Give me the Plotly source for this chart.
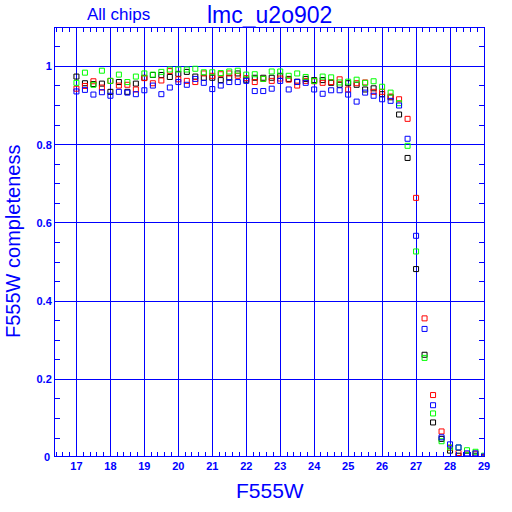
import plotly.graph_objects as go

mags = [17.00, 17.25, 17.50, 17.75, 18.00, 18.25, 18.50, 18.75, 19.00, 19.25,
        19.50, 19.75, 20.00, 20.25, 20.50, 20.75, 21.00, 21.25, 21.50, 21.75,
        22.00, 22.25, 22.50, 22.75, 23.00, 23.25, 23.50, 23.75, 24.00, 24.25,
        24.50, 24.75, 25.00, 25.25, 25.50, 25.75, 26.00, 26.25, 26.50, 26.75,
        27.00, 27.25, 27.50, 27.75, 28.00, 28.25, 28.50, 28.75, 29.00]

black = [.974, .957, .955, .956, .935, .960, .935, .956, .971, .978,
         .978, .973, .981, .986, .974, .971, .971, .965, .971, .982,
         .966, .971, .971, .971, .976, .968, .961, .968, .965, .965,
         .958, .953, .957, .953, .941, .944, .929, .921, .877, .766,
         .482, .263, .090, .048, .018, .005, .005, .005, .000]
red = [.943, .950, .962, .946, .963, .951, .953, .941, .970, .957,
       .964, .988, .967, .963, .960, .982, .976, .980, .982, .976,
       .970, .960, .968, .963, .969, .966, .951, .963, .962, .958,
       .960, .967, .941, .957, .959, .935, .935, .923, .916, .866,
       .664, .356, .160, .067, .025, .012, .008, .010, .002]
green = [.958, .984, .953, .989, .963, .979, .960, .974, .982, .979,
         .986, .992, .992, .992, .994, .985, .985, .983, .987, .989,
         .979, .980, .968, .987, .987, .976, .982, .973, .963, .974,
         .972, .959, .961, .966, .958, .962, .948, .933, .906, .797,
         .527, .255, .113, .042, .026, .026, .019, .015, .005]
blue = [.936, .940, .928, .934, .925, .935, .933, .929, .939, .951,
        .929, .946, .960, .953, .968, .958, .942, .951, .960, .960,
        .963, .937, .937, .943, .963, .941, .960, .958, .941, .930,
        .939, .939, .928, .910, .933, .925, .916, .912, .900, .815,
        .567, .329, .134, .052, .034, .026, .011, .011, .003]

series = [("black", black), ("red", red), ("#00ff00", green), ("blue", blue)]

x_ticks = [17, 18, 19, 20, 21, 22, 23, 24, 25, 26, 27, 28, 29]
y_ticks = [0.2, 0.4, 0.6, 0.8, 1]
y_ticklabels = ["0.2", "0.4", "0.6", "0.8", "1"]
y_zero_label = "0"

BLUE = "#0000ff"
W = H = 512
# plot area in screen pixels
L, T, R, B = 55, 28, 28, 56
pw, ph = W - L - R, H - T - B

# axis ranges chosen so grid lines fall on the reference's pixel rows/columns
x_hi = 29.0
x_scale = (484.0 - 110.4) / 11.0
x_lo = 18.0 - (110.4 - L) / x_scale
y_scale = 391.25
y_hi = 1.0 + (66.4 - T) / y_scale
y_lo = y_hi - ph / y_scale


def px(sx):
    return (sx - L) / pw


def py(sy):
    return (H - B - sy) / ph


fig = go.Figure()
for col, vals in series:
    fig.add_trace(go.Scatter(
        x=mags, y=vals, mode="markers",
        marker=dict(symbol="square-open", size=5, color=col, line=dict(width=1, color=col)),
        showlegend=False, hoverinfo="skip",
    ))

tickfont = dict(family="Liberation Sans", size=11, color=BLUE, weight="bold")
fig.update_layout(
    width=W, height=H,
    margin=dict(l=L, r=R, t=T, b=B, pad=0),
    paper_bgcolor="white", plot_bgcolor="white",
    xaxis=dict(range=[x_lo, x_hi], tickvals=x_ticks, ticktext=[str(v) for v in x_ticks],
               showgrid=True, gridcolor=BLUE, gridwidth=1, zeroline=False,
               showline=True, linecolor=BLUE, linewidth=1, mirror="allticks",
               ticks="inside", ticklen=10, tickcolor=BLUE, tickfont=tickfont,
               minor=dict(dtick=0.2, tick0=0, ticks="inside", ticklen=4, tickcolor=BLUE,
                          showgrid=False)),
    yaxis=dict(range=[y_lo, y_hi], tickvals=y_ticks, ticktext=y_ticklabels,
               showgrid=True, gridcolor=BLUE, gridwidth=1, zeroline=False,
               showline=True, linecolor=BLUE, linewidth=1, mirror="allticks",
               ticks="inside", ticklen=10, tickcolor=BLUE, tickfont=tickfont,
               minor=dict(dtick=0.05, tick0=0, ticks="inside", ticklen=5, tickcolor=BLUE,
                          showgrid=False)),
    annotations=[
        dict(text=y_zero_label, x=px(51), y=py(457), xref="paper", yref="paper", showarrow=False,
             xanchor="right", yanchor="middle", font=tickfont, borderpad=0),
        dict(text="lmc_u2o902", x=px(269), y=py(15), xref="paper", yref="paper", showarrow=False,
             xanchor="center", yanchor="middle",
             font=dict(family="Liberation Sans", size=23, color=BLUE)),
        dict(text="All chips", x=px(118), y=py(15), xref="paper", yref="paper", showarrow=False,
             xanchor="center", yanchor="middle",
             font=dict(family="Liberation Sans", size=17, color=BLUE)),
        dict(text="F555W", x=px(270), y=py(490), xref="paper", yref="paper", showarrow=False,
             xanchor="center", yanchor="middle",
             font=dict(family="Liberation Sans", size=21, color=BLUE)),
        dict(text="F555W completeness", x=px(13), y=py(242), xref="paper", yref="paper",
             showarrow=False, textangle=-90, xanchor="center", yanchor="middle",
             font=dict(family="Liberation Sans", size=20, color=BLUE)),
    ],
)

fig.write_html("out.html", config={"displayModeBar": False},
               post_script="document.body.style.margin='0';")
